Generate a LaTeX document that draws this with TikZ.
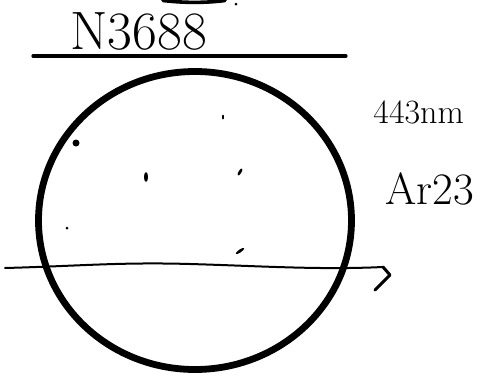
\documentclass[tikz,border=0pt]{standalone}
\usepackage{graphicx,xcolor,amsmath,tikz}
\usetikzlibrary{arrows.meta,positioning}

\begin{document}
\begin{tikzpicture}[x=0.5pt,y=-0.5pt,
  ink/.style={black,line cap=round,line join=round},
  lbl/.style={inner sep=0pt,anchor=base west},
  spot/.style={fill=black}]
\useasboundingbox (0,0) rectangle (483,381);
% title and underline
\node[lbl,font=\fontsize{27}{27}\selectfont] (name) at (70,49) {N3688};
\draw[ink,line width=1.6pt] (33,56) -- (346,56);
\draw[ink,line width=1.8pt] (163,0.5) .. controls (185,3) and (205,3) .. (225,0.5);
\fill (236,4) circle (1.5);
% the disc
\draw[ink,line width=3.4pt] (195,220.5) ellipse (156.5 and 149);
\fill[spot] (76,143) circle (3.5);
\fill[spot] (146,177) ellipse (2 and 5);
\fill[spot] (223,117) ellipse (1 and 2.5);
\fill[spot,rotate around={-30:(240,172)}] (240,172) ellipse (1.5 and 4);
\fill[spot] (67,228) circle (1.5);
\fill[spot,rotate around={-55:(240,251)}] (240,251) ellipse (1.5 and 5);
% labels on the right
\node[lbl,font=\fontsize{17}{17}\selectfont] (wave) at (373,123) {443nm};
\node[lbl,font=\fontsize{22.5}{22.5}\selectfont] (mass) at (385,204) {Ar23};
% horizontal line with barb
\coordinate (lhs) at (5,268);
\coordinate (rhs) at (383,267);
\draw[ink,line width=1pt] (lhs) .. controls (80,266) and (120,262) .. (190,264)
  .. controls (260,266) and (320,270) .. (rhs);
\draw[ink,line width=1.5pt] (rhs) -- (390,275) -- (375,290);
\end{tikzpicture}
\end{document}
